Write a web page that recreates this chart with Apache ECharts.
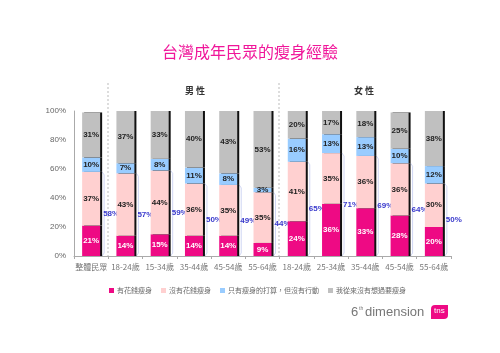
<!DOCTYPE html>
<html>
<head>
<meta charset="utf-8">
<script src="https://cdn.jsdelivr.net/npm/echarts@6/dist/echarts.min.js"></script>
<style>
  html, body { margin: 0; padding: 0; background: #fff; }
  #chart { width: 500px; height: 353px; }
</style>
</head>
<body>
<div id="chart"></div>
<script>
// 類別
var categories = ['整體民眾', '18-24歲', '15-34歲', '35-44歲', '45-54歲', '55-64歲',
  '18-24歲', '25-34歲', '35-44歲', '45-54歲', '55-64歲']
var seriesNames = ['有花錢瘦身', '沒有花錢瘦身', '只有瘦身的打算，但沒有行動', '我從來沒有想過要瘦身']
// 各系列數值 (%)
var paidData = [21, 14, 15, 14, 14, 9, 24, 36, 33, 28, 20]
var unpaidData = [37, 43, 44, 36, 35, 35, 41, 35, 36, 36, 30]
var planData = [10, 7, 8, 11, 8, 3, 16, 13, 13, 10, 12]
var neverData = [31, 37, 33, 40, 43, 53, 20, 17, 18, 25, 38]
// 有瘦身經驗合計
var totalData = [58, 57, 59, 50, 49, 44, 65, 71, 69, 64, 50]
var yTicks = [0, 20, 40, 60, 80, 100]

var colors = ['#ee0a84', '#ffd0d0', '#99ccff', '#c0c0c0']
var font = '"Noto Sans CJK TC", "Noto Sans", sans-serif'

var chart = echarts.init(document.getElementById('chart'))

function barSeries(name, data, idx) {
  return {
    name: name,
    type: 'bar',
    stack: 'total',
    barWidth: 18,
    data: data,
    itemStyle: {
      color: colors[idx],
      shadowColor: '#111',
      shadowOffsetX: 2,
      shadowOffsetY: 0,
      shadowBlur: 0
    },
    label: {
      show: true,
      formatter: '{c}%',
      fontSize: 8,
      fontWeight: 'bold',
      fontFamily: 'Arial, sans-serif',
      color: idx === 0 ? '#fff' : '#222'
    }
  }
}

var option = {
  animation: false,
  backgroundColor: '#fff',
  title: {
    text: '台灣成年民眾的瘦身經驗',
    left: 'center',
    top: 39,
    textStyle: { color: '#f0169a', fontSize: 16, fontWeight: 'normal', fontFamily: font }
  },
  legend: {
    data: seriesNames,
    left: 104,
    top: 282,
    icon: 'rect',
    itemWidth: 5,
    itemHeight: 5,
    itemGap: 9,
    textStyle: { fontSize: 7, color: '#666', fontFamily: font, padding: [0, 0, 0, -2] }
  },
  grid: { left: 74, right: 49, top: 111, bottom: 97 },
  xAxis: {
    type: 'category',
    data: categories,
    axisLine: { lineStyle: { color: '#aaa' } },
    axisTick: { show: true, length: 3, lineStyle: { color: '#aaa' } },
    axisLabel: { interval: 0, fontSize: 8, color: '#777', fontFamily: font, margin: 7 }
  },
  yAxis: {
    type: 'value',
    min: 0,
    max: 100,
    interval: 20,
    axisLine: { show: true, lineStyle: { color: '#aaa' } },
    axisTick: { show: false },
    splitLine: { show: false },
    axisLabel: {
      fontSize: 8, color: '#666', fontFamily: 'Arial, sans-serif',
      formatter: function (v) { return yTicks.indexOf(v) >= 0 ? v + '%' : '' }
    }
  },
  graphic: [
    { type: 'line', shape: { x1: 108, y1: 83, x2: 108, y2: 256 }, style: { stroke: '#bbb', lineDash: [2, 2], lineWidth: 1 } },
    { type: 'line', shape: { x1: 279, y1: 83, x2: 279, y2: 256 }, style: { stroke: '#bbb', lineDash: [2, 2], lineWidth: 1 } },
    { type: 'text', left: 185, top: 86, style: { text: '男 性', fontSize: 9, fontWeight: 'bold', fill: '#333', fontFamily: font } },
    { type: 'text', left: 354, top: 86, style: { text: '女 性', fontSize: 9, fontWeight: 'bold', fill: '#333', fontFamily: font } },
    { type: 'text', left: 351, top: 306, style: { text: '6', fontSize: 13, fill: '#777', fontFamily: 'Arial, sans-serif' } },
    { type: 'text', left: 359, top: 306, style: { text: 'th', fontSize: 5, fill: '#777', fontFamily: 'Arial, sans-serif' } },
    { type: 'text', left: 365, top: 306, style: { text: 'dimension', fontSize: 13, fill: '#777', fontFamily: 'Arial, sans-serif' } },
    { type: 'rect', shape: { x: 431, y: 305, width: 17, height: 14, r: [4, 0, 4, 0] }, style: { fill: '#ee0a84' } },
    { type: 'text', left: 434, top: 307, style: { text: 'tns', fontSize: 8, fill: '#fff', fontFamily: 'Arial, sans-serif' } }
  ],
  series: [
    barSeries(seriesNames[0], paidData, 0),
    barSeries(seriesNames[1], unpaidData, 1),
    barSeries(seriesNames[2], planData, 2),
    barSeries(seriesNames[3], neverData, 3),
    {
      type: 'custom',
      name: 'total',
      silent: true,
      data: totalData.map(function (v, i) { return [i, v] }),
      renderItem: function (params, api) {
        var top = api.coord([api.value(0), api.value(1)])
        var base = api.coord([api.value(0), 0])
        var x = top[0] + 11
        var mid = (top[1] + base[1]) / 2
        return {
          type: 'group',
          children: [
            {
              type: 'polyline',
              shape: {
                points: [[x, top[1]], [x + 2, top[1] + 3], [x + 2, mid - 3], [x + 3, mid],
                  [x + 2, mid + 3], [x + 2, base[1] - 3], [x, base[1]]]
              },
              style: { stroke: '#c4cbf0', fill: null, lineWidth: 0.8 }
            },
            {
              type: 'text',
              x: x + 1,
              y: mid,
              style: {
                text: api.value(1) + '%',
                fill: '#3a3acc',
                font: 'bold 8px Arial, sans-serif',
                verticalAlign: 'middle'
              }
            }
          ]
        }
      }
    }
  ]
}

chart.setOption(option)
</script>
</body>
</html>
